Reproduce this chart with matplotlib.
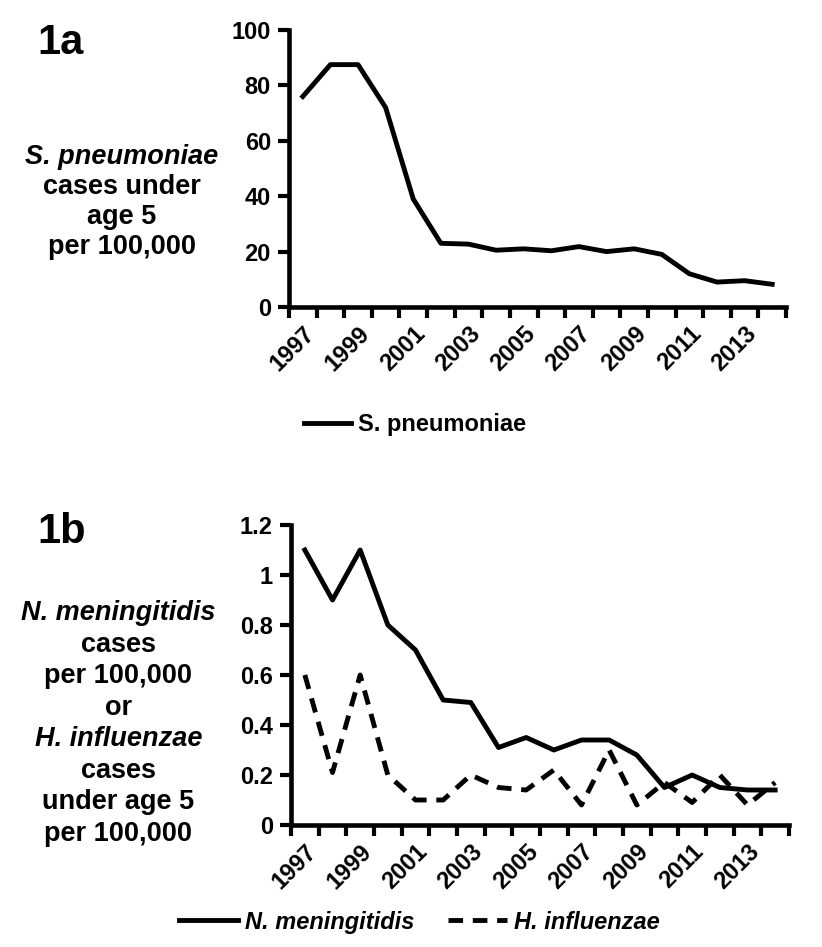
import numpy as np
import matplotlib.pyplot as plt
from matplotlib.lines import Line2D

plt.rcParams['font.family'] = ['Liberation Sans', 'DejaVu Sans']
plt.rcParams['font.weight'] = 'bold'

# data
years = list(range(1997, 2015))
s_pneumoniae = [76, 87.5, 87.5, 72, 39, 23, 22.7, 20.5, 21, 20.3, 21.8, 20, 21, 19, 12, 9, 9.5, 8.2]
n_meningitidis = [1.1, 0.9, 1.1, 0.8, 0.7, 0.5, 0.49, 0.31, 0.35, 0.30, 0.34, 0.34, 0.28, 0.15, 0.2, 0.15, 0.14, 0.14]
h_influenzae = [0.6, 0.21, 0.6, 0.2, 0.1, 0.1, 0.2, 0.15, 0.14, 0.22, 0.08, 0.3, 0.08, 0.17, 0.09, 0.2, 0.08, 0.17]

top_yticks = [0, 20, 40, 60, 80, 100]
bot_yticks = [0, 0.2, 0.4, 0.6, 0.8, 1.0, 1.2]
bot_yticklabels = ['0', '0.2', '0.4', '0.6', '0.8', '1', '1.2']

W, H = 822, 947
fig = plt.figure(figsize=(W / 100, H / 100), dpi=100)
ax1 = fig.add_axes([289 / W, 1 - 307 / H, 497 / W, 277 / H])
ax2 = fig.add_axes([291 / W, 1 - 825 / H, 498 / W, 300 / H])

x = np.arange(len(years))
lw = 3.5
tfs = 17
dash = (3, 2)

def style(ax):
    for s in ['top', 'right']:
        ax.spines[s].set_visible(False)
    for s in ['left', 'bottom']:
        ax.spines[s].set_linewidth(3.3)
    ax.set_xlim(-0.5, len(years) - 0.5)
    # tick marks between categories, labels at every other year
    ax.set_xticks(np.arange(-0.5, len(years)), minor=False)
    ax.set_xticklabels([])
    ax.set_xticks(x[::2], minor=True)
    ax.set_xticklabels([str(y) for y in years[::2]], minor=True, rotation=45,
                       ha='right', va='top', rotation_mode='anchor', fontsize=tfs, fontweight='bold')
    ax.tick_params(axis='x', which='major', direction='out', length=8, width=3)
    ax.tick_params(axis='x', which='minor', length=0, pad=11)
    ax.tick_params(axis='y', direction='out', length=8, width=3, labelsize=tfs, pad=5)
    for t in ax.get_yticklabels():
        t.set_fontweight('bold')

ax1.plot(x, s_pneumoniae, color='black', lw=lw)
ax1.set_ylim(0, 100)
ax1.set_yticks(top_yticks)
style(ax1)

ax2.plot(x, n_meningitidis, color='black', lw=lw)
ax2.plot(x, h_influenzae, color='black', lw=lw, dashes=dash)
ax2.set_ylim(0, 1.2)
ax2.set_yticks(bot_yticks)
ax2.set_yticklabels(bot_yticklabels)
style(ax2)

# panel labels
fig.text(0.046, 1 - 43 / H, '1a', fontsize=30, fontweight='bold', va='center')
fig.text(0.046, 1 - 532 / H, '1b', fontsize=30, fontweight='bold', va='center')

# y-axis labels
top_lines = [('S. pneumoniae', 'italic'), ('cases under', 'normal'),
             ('age 5', 'normal'), ('per 100,000', 'normal')]
for i, (txt, st) in enumerate(top_lines):
    fig.text(0.148, 1 - (157 + i * 30) / H, txt, fontsize=19.5, fontweight='bold',
             style=st, ha='center', va='center')

bot_lines = [('N. meningitidis', 'italic'), ('cases', 'normal'), ('per 100,000', 'normal'),
             ('or', 'normal'), ('H. influenzae', 'italic'), ('cases', 'normal'),
             ('under age 5', 'normal'), ('per 100,000', 'normal')]
for i, (txt, st) in enumerate(bot_lines):
    fig.text(0.144, 1 - (613 + i * 31.5) / H, txt, fontsize=19.5, fontweight='bold',
             style=st, ha='center', va='center')

# legends
h1 = Line2D([], [], color='black', lw=lw)
fig.legend([h1], ['S. pneumoniae'], loc='center', bbox_to_anchor=(0.505, 1 - 425 / H),
           frameon=False, prop={'weight': 'bold', 'size': 17}, handlelength=2.0,
           handletextpad=0.3)

h2 = Line2D([], [], color='black', lw=lw)
h3 = Line2D([], [], color='black', lw=lw, dashes=dash)
fig.legend([h2, h3], ['N. meningitidis', 'H. influenzae'], loc='center',
           bbox_to_anchor=(0.51, 1 - 922 / H), ncol=2, frameon=False,
           prop={'weight': 'bold', 'size': 17, 'style': 'italic'}, handlelength=2.5,
           handletextpad=0.3, columnspacing=1.4)

fig.savefig('out.png', dpi=100)
